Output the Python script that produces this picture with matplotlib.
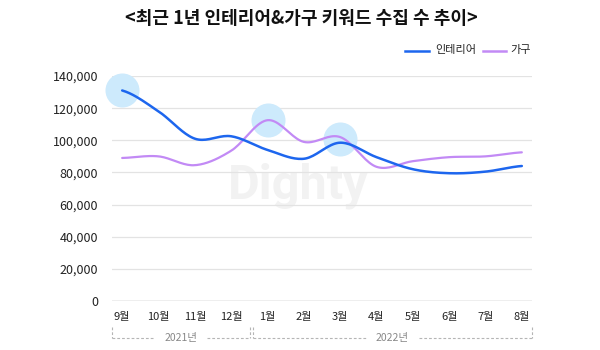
import numpy as np
import matplotlib
matplotlib.use("Agg")
import matplotlib.pyplot as plt
from matplotlib.lines import Line2D

plt.rcParams['font.family'] = ['Noto Sans CJK KR', 'DejaVu Sans']

months = ['9월', '10월', '11월', '12월', '1월', '2월', '3월', '4월', '5월', '6월', '7월', '8월']
interior = [131000, 118000, 101000, 102500, 94000, 88500, 98500, 89500, 82000, 79500, 80500, 84000]
furniture = [89000, 90000, 84500, 93500, 112500, 99000, 102000, 83500, 87000, 89500, 90000, 92500]
highlight_idx = [0, 4, 6]
highlight_val = [131000, 112500, 100500]
yticks = [0, 20000, 40000, 60000, 80000, 100000, 120000, 140000]
years = ['2021년', '2022년']

BLUE = '#1d66ee'
PURPLE = '#c28af5'


def smooth(y, n=20, t=0.5):
    y = np.asarray(y, float)
    x = np.arange(len(y), dtype=float)
    m = np.zeros_like(y)
    m[1:-1] = (y[2:] - y[:-2]) / 2 * (2 * t)
    m[0] = (y[1] - y[0]) * t
    m[-1] = (y[-1] - y[-2]) * t
    xs, ys = [], []
    for i in range(len(y) - 1):
        s = np.linspace(0, 1, n, endpoint=(i == len(y) - 2))
        h00 = 2 * s**3 - 3 * s**2 + 1
        h10 = s**3 - 2 * s**2 + s
        h01 = -2 * s**3 + 3 * s**2
        h11 = s**3 - s**2
        xs.append(x[i] + s)
        ys.append(h00 * y[i] + h10 * m[i] + h01 * y[i + 1] + h11 * m[i + 1])
    return np.concatenate(xs), np.concatenate(ys)


fig = plt.figure(figsize=(6, 3.5), dpi=100)
ax = fig.add_axes([112 / 600, 49 / 350, 420 / 600, 225 / 350])
ax.set_xlim(-0.28, 11.28)
ax.set_ylim(0, 140000)

ax.text(4.85, 72000, 'Dighty', fontsize=35, fontweight='bold', color='#f2f2f2',
        ha='center', va='center', family=['Roboto', 'DejaVu Sans'], zorder=0)

for v in yticks[1:]:
    ax.axhline(v, color='#e3e3e3', lw=0.9, zorder=0.5)
ax.axhline(0, color='#aaaaaa', lw=1.0, zorder=1)

ax.scatter(highlight_idx, highlight_val, s=600, color='#cdeafc', zorder=2,
           clip_on=False, linewidths=0)

xs, ys = smooth(furniture)
ax.plot(xs, ys, color=PURPLE, lw=1.6, zorder=3, solid_capstyle='round')
xs, ys = smooth(interior)
ax.plot(xs, ys, color=BLUE, lw=1.8, zorder=4, solid_capstyle='round')

for s in ax.spines.values():
    s.set_visible(False)
ax.set_yticks(yticks)
ax.set_yticklabels([f'{v:,}' for v in yticks], fontsize=9, color='#222222')
ax.set_xticks(range(len(months)))
ax.set_xticklabels(months, fontsize=8, color='#222222')
ax.tick_params(axis='both', length=0)
ax.tick_params(axis='y', pad=10)
ax.tick_params(axis='x', pad=8)

# year brackets
trans = ax.get_xaxis_transform()
dash = dict(color='#b5b5b5', lw=0.8, ls=(0, (2.5, 1.8)), clip_on=False, transform=trans)
ytop, ymid = -26 / 225, -37 / 225
edges = [(-0.28, 3.52), (3.6, 11.28)]
for (x0, x1), lab in zip(edges, years):
    xc = (x0 + x1) / 2
    ax.add_line(Line2D([x0, x0], [ytop, ymid], **dash))
    ax.add_line(Line2D([x1, x1], [ytop, ymid], **dash))
    ax.add_line(Line2D([x0, xc - 0.72], [ymid, ymid], **dash))
    ax.add_line(Line2D([xc + 0.72, x1], [ymid, ymid], **dash))
    ax.text(xc, ymid, lab, transform=trans, ha='center', va='center',
            fontsize=7.5, color='#888888')

fig.text(0.503, 1 - 18 / 350, '<최근 1년 인테리어&가구 키워드 수집 수 추이>',
         ha='center', va='center', fontsize=13, fontweight='bold', color='#111111')

# legend
ly = 1 - 50.5 / 350
fig.add_artist(Line2D([405 / 600, 429 / 600], [ly, ly], color=BLUE, lw=1.8))
fig.text(435 / 600, ly, '인테리어', ha='left', va='center', fontsize=8, color='#222222')
fig.add_artist(Line2D([483 / 600, 506 / 600], [ly, ly], color=PURPLE, lw=1.8))
fig.text(510 / 600, ly, '가구', ha='left', va='center', fontsize=8, color='#222222')

fig.savefig('out.png', dpi=100, facecolor='white')
